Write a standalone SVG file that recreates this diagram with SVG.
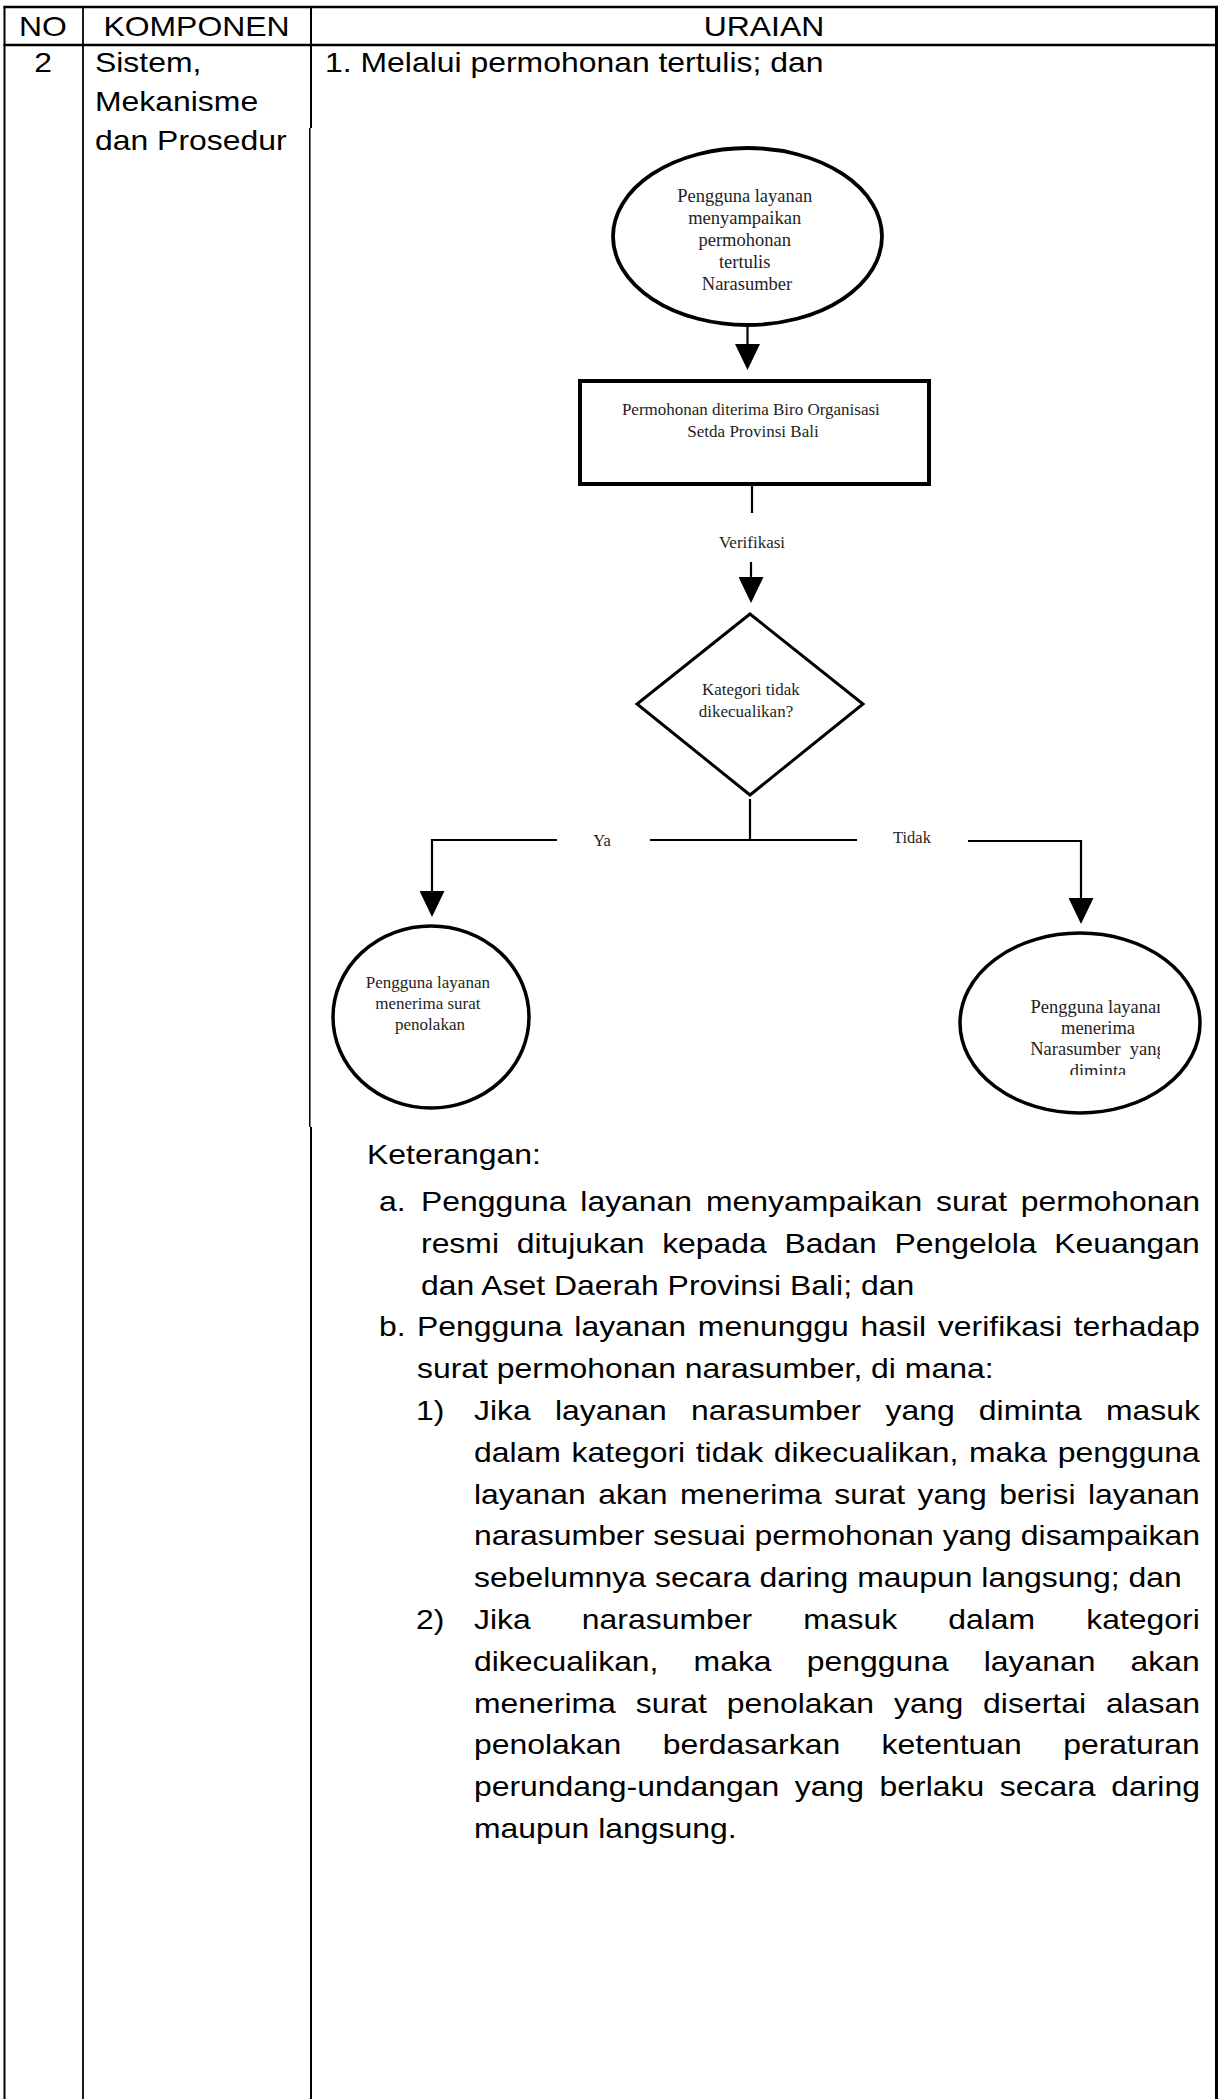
<svg xmlns="http://www.w3.org/2000/svg" width="1223" height="2099" viewBox="0 0 1223 2099">
  <defs>
    <style>
      .t { font-family: "Liberation Sans", Arial, sans-serif; font-size: 28.5px; fill: #000; }
      .m { text-anchor: middle; }
      .f { font-family: "Liberation Serif", "Times New Roman", serif; fill: #1e1e1e; text-anchor: middle; }
      .grid { stroke: #000; fill: none; }
      .node { fill: #fff; stroke: #000; }
      .conn { fill: none; stroke: #000; stroke-width: 2.2; }
    </style>
    <marker id="ah" viewBox="0 0 26 25" markerWidth="26" markerHeight="25" markerUnits="userSpaceOnUse" refX="22" refY="12.5" orient="auto">
      <path d="M0,0 L26,12.5 L0,25 Z" fill="#000"/>
    </marker>
    <clipPath id="clipR">
      <rect x="990" y="990" width="170" height="85"/>
    </clipPath>
  </defs>

  <rect width="1223" height="2099" fill="#fff"/>

  <!-- table grid -->
  <g id="table" class="grid">
    <line x1="3.5" y1="7" x2="1218" y2="7" stroke-width="2.5"/>
    <line x1="3.5" y1="45" x2="1218" y2="45" stroke-width="2.5"/>
    <line x1="4.5" y1="6" x2="4.5" y2="2099" stroke-width="2"/>
    <line x1="83" y1="6" x2="83" y2="2099" stroke-width="1.8"/>
    <line x1="311" y1="6" x2="311" y2="128" stroke-width="2"/>
    <line x1="309.8" y1="128" x2="309.8" y2="1127" stroke-width="1.5"/>
    <line x1="311" y1="1127" x2="311" y2="2099" stroke-width="2"/>
    <line x1="1216.5" y1="6" x2="1216.5" y2="2099" stroke-width="3"/>
  </g>

  <!-- header row -->
  <g id="header">
    <text class="t m" transform="matrix(1.12 0 0 1 43 36)">NO</text>
    <text class="t m" transform="matrix(1.12 0 0 1 196.5 36)">KOMPONEN</text>
    <text class="t m" transform="matrix(1.12 0 0 1 764 36)">URAIAN</text>
  </g>

  <!-- row 2 -->
  <g id="row2">
    <text class="t m" transform="matrix(1.12 0 0 1 43 72)">2</text>
    <text class="t" transform="matrix(1.12 0 0 1 95 72)">Sistem,</text>
    <text class="t" transform="matrix(1.12 0 0 1 95 111)">Mekanisme</text>
    <text class="t" transform="matrix(1.12 0 0 1 95 150)">dan Prosedur</text>
    <text class="t" transform="matrix(1.12 0 0 1 325 72)">1. Melalui permohonan tertulis; dan</text>
  </g>

  <!-- flowchart nodes -->
  <g id="start">
    <ellipse class="node" cx="747.5" cy="236.5" rx="134.5" ry="88.5" stroke-width="3.8"/>
    <text class="f" font-size="18.5">
      <tspan x="747" y="202">Pengguna layanan</tspan>
      <tspan x="747" y="224">menyampaikan</tspan>
      <tspan x="747" y="246">permohonan</tspan>
      <tspan x="747" y="268">tertulis</tspan>
      <tspan x="747" y="290">Narasumber</tspan>
    </text>
  </g>

  <g id="received">
    <rect class="node" x="580" y="381" width="349" height="103" stroke-width="4"/>
    <text class="f" font-size="17">
      <tspan x="753" y="415">Permohonan diterima Biro Organisasi</tspan>
      <tspan x="753" y="437">Setda Provinsi Bali</tspan>
    </text>
  </g>

  <g id="decision">
    <polygon class="node" points="750,614 863,704 750,795 637,704" stroke-width="3"/>
    <text class="f" font-size="17">
      <tspan x="753" y="695">Kategori tidak</tspan>
      <tspan x="746" y="717">dikecualikan?</tspan>
    </text>
  </g>

  <g id="rejected">
    <ellipse class="node" cx="431" cy="1017" rx="98" ry="91" stroke-width="3.5"/>
    <text class="f" font-size="17">
      <tspan x="430" y="988">Pengguna layanan</tspan>
      <tspan x="430" y="1009">menerima surat</tspan>
      <tspan x="430" y="1030">penolakan</tspan>
    </text>
  </g>

  <g id="granted">
    <ellipse class="node" cx="1080" cy="1023" rx="120" ry="90" stroke-width="3.5"/>
    <g clip-path="url(#clipR)">
      <text class="f" font-size="18.5" xml:space="preserve"><tspan x="1098" y="1013">Pengguna layanan</tspan><tspan x="1098" y="1034">menerima</tspan><tspan x="1098" y="1055">Narasumber  yang</tspan><tspan x="1098" y="1077">diminta</tspan></text>
    </g>
  </g>

  <!-- connectors -->
  <g id="connectors">
    <path class="conn" d="M747.5,326 V366" marker-end="url(#ah)"/>
    <path class="conn" d="M752,486 V513"/>
    <path class="conn" d="M751,562 V599" marker-end="url(#ah)"/>
    <path class="conn" d="M750,799 V840"/>
    <path class="conn" d="M650,840 H857"/>
    <path class="conn" d="M557,840 H432 V913" marker-end="url(#ah)"/>
    <path class="conn" d="M968,841 H1081 V920" marker-end="url(#ah)"/>
    <text class="f" font-size="17" x="752" y="548">Verifikasi</text>
    <text class="f" font-size="16.5" x="602" y="846">Ya</text>
    <text class="f" font-size="16.5" x="912" y="843">Tidak</text>
  </g>

  <!-- explanation -->
  <g id="notes">
    <text class="t" transform="matrix(1.12 0 0 1 367 1164)">Keterangan:</text>

    <text class="t" transform="matrix(1.12 0 0 1 379 1211)">a.</text>
    <text class="t" transform="matrix(1.12 0 0 1 421 1211)" word-spacing="4.4">Pengguna layanan menyampaikan surat permohonan</text>
    <text class="t" transform="matrix(1.12 0 0 1 421 1253)" word-spacing="7.9">resmi ditujukan kepada Badan Pengelola Keuangan</text>
    <text class="t" transform="matrix(1.12 0 0 1 421 1295)">dan Aset Daerah Provinsi Bali; dan</text>

    <text class="t" transform="matrix(1.12 0 0 1 379 1336)">b.</text>
    <text class="t" transform="matrix(1.12 0 0 1 417 1336)" word-spacing="2.6">Pengguna layanan menunggu hasil verifikasi terhadap</text>
    <text class="t" transform="matrix(1.12 0 0 1 417 1378)">surat permohonan narasumber, di mana:</text>

    <text class="t" transform="matrix(1.12 0 0 1 416 1420)">1)</text>
    <text class="t" transform="matrix(1.12 0 0 1 474 1420)" word-spacing="13.7">Jika layanan narasumber yang diminta masuk</text>
    <text class="t" transform="matrix(1.12 0 0 1 474 1462)" word-spacing="1.6">dalam kategori tidak dikecualikan, maka pengguna</text>
    <text class="t" transform="matrix(1.12 0 0 1 474 1504)" word-spacing="3.2">layanan akan menerima surat yang berisi layanan</text>
    <text class="t" transform="matrix(1.12 0 0 1 474 1545)" word-spacing="0.1">narasumber sesuai permohonan yang disampaikan</text>
    <text class="t" transform="matrix(1.12 0 0 1 474 1587)">sebelumnya secara daring maupun langsung; dan</text>

    <text class="t" transform="matrix(1.12 0 0 1 416 1629)">2)</text>
    <text class="t" transform="matrix(1.12 0 0 1 474 1629)" word-spacing="37.7">Jika narasumber masuk dalam kategori</text>
    <text class="t" transform="matrix(1.12 0 0 1 474 1671)" word-spacing="23.4">dikecualikan, maka pengguna layanan akan</text>
    <text class="t" transform="matrix(1.12 0 0 1 474 1713)" word-spacing="9.9">menerima surat penolakan yang disertai alasan</text>
    <text class="t" transform="matrix(1.12 0 0 1 474 1754)" word-spacing="29.1">penolakan berdasarkan ketentuan peraturan</text>
    <text class="t" transform="matrix(1.12 0 0 1 474 1796)" word-spacing="6">perundang-undangan yang berlaku secara daring</text>
    <text class="t" transform="matrix(1.12 0 0 1 474 1838)">maupun langsung.</text>
  </g>
</svg>
